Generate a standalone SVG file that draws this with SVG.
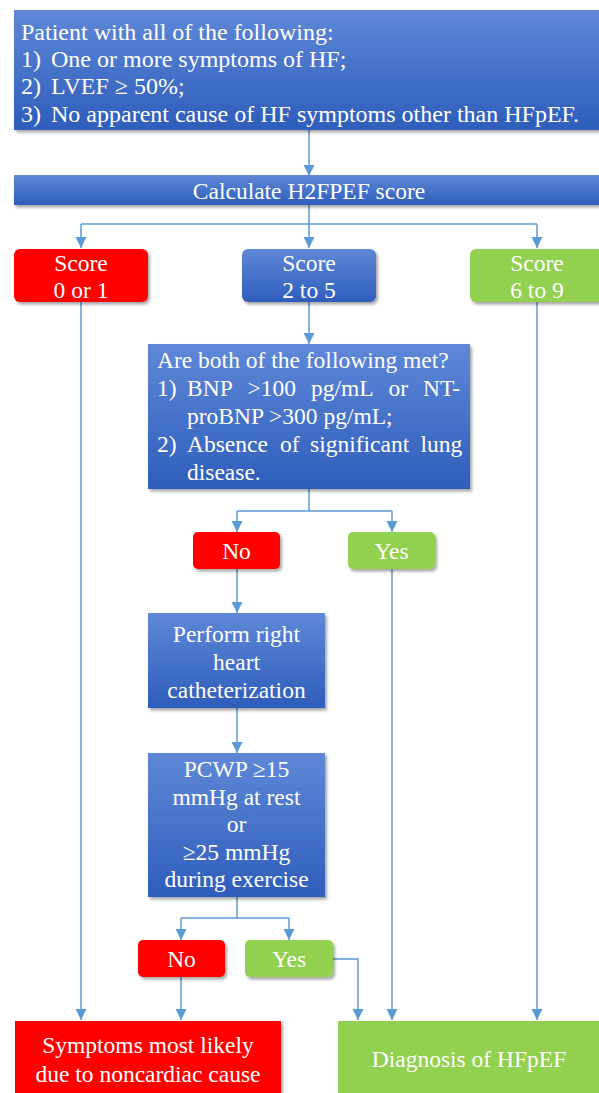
<svg xmlns="http://www.w3.org/2000/svg" width="599" height="1093" viewBox="0 0 599 1093" font-family="Liberation Serif, DejaVu Serif, serif">
<defs>
<linearGradient id="blueGrad" x1="0" y1="0" x2="0" y2="1">
<stop offset="0" stop-color="#5F88D7"/>
<stop offset="1" stop-color="#2E5DBB"/>
</linearGradient>
<filter id="shadow" x="-10%" y="-10%" width="120%" height="130%">
<feDropShadow dx="2" dy="2.5" stdDeviation="1.5" flood-color="#000" flood-opacity="0.35"/>
</filter>
<marker id="arrow" markerUnits="userSpaceOnUse" markerWidth="12" markerHeight="12" refX="11" refY="6" orient="auto">
<path d="M0,0.5 L11,6 L0,11.5 z" fill="#5B9BD5"/>
</marker>
</defs>
<style>
.blue{fill:url(#blueGrad);filter:url(#shadow);}
.red{fill:#FF0000;filter:url(#shadow);}
.green{fill:#92D050;filter:url(#shadow);}
text{font-family:'Liberation Serif',serif;font-size:23.5px;fill:#FFFFFF;}
.big{font-size:24px;}
.c{text-anchor:middle;}
.conn path{fill:none;stroke:#5B9BD5;stroke-width:1.5;}
</style>
<rect width="599" height="1093" fill="#FFFFFF"/>

<g class="conn" id="connectors">
<path d="M309,130 V176" marker-end="url(#arrow)"/>
<path d="M309,205 V224"/>
<path d="M81,224 H537"/>
<path d="M81,224 V248" marker-end="url(#arrow)"/>
<path d="M309,224 V248" marker-end="url(#arrow)"/>
<path d="M537,224 V248" marker-end="url(#arrow)"/>
<path d="M81,302 V1020" marker-end="url(#arrow)"/>
<path d="M537,302 V1020" marker-end="url(#arrow)"/>
<path d="M309,302 V344" marker-end="url(#arrow)"/>
<path d="M309,489 V511"/>
<path d="M237,511 H392"/>
<path d="M237,511 V532" marker-end="url(#arrow)"/>
<path d="M392,511 V532" marker-end="url(#arrow)"/>
<path d="M392,569 V1020" marker-end="url(#arrow)"/>
<path d="M237,569 V613" marker-end="url(#arrow)"/>
<path d="M237,708 V753" marker-end="url(#arrow)"/>
<path d="M237,897 V918"/>
<path d="M181,918 H289"/>
<path d="M181,918 V940" marker-end="url(#arrow)"/>
<path d="M289,918 V940" marker-end="url(#arrow)"/>
<path d="M181,977 V1020" marker-end="url(#arrow)"/>
<path d="M333,959 H358 V1020" marker-end="url(#arrow)"/>
</g>

<g id="patient">
<rect class="blue" x="14" y="10" width="600" height="120"/>
<text class="big" x="21" y="40">Patient with all of the following:</text>
<text class="big" x="21" y="67">1)</text><text class="big" x="51" y="67">One or more symptoms of HF;</text>
<text class="big" x="21" y="94">2)</text><text class="big" x="51" y="94">LVEF ≥ 50%;</text>
<text class="big" x="21" y="122">3)</text><text class="big" x="51" y="122">No apparent cause of HF symptoms other than HFpEF.</text>
</g>

<g id="calculate">
<rect class="blue" x="14" y="175" width="600" height="30"/>
<text class="c" x="309" y="199">Calculate H2FPEF score</text>
</g>

<g id="score01">
<rect class="red" x="14" y="249" width="134" height="53" rx="6"/>
<text class="c" x="81" y="271">Score</text>
<text class="c" x="81" y="298">0 or 1</text>
</g>

<g id="score25">
<rect class="blue" x="242" y="249" width="134" height="53" rx="6"/>
<text class="c" x="309" y="271">Score</text>
<text class="c" x="309" y="298">2 to 5</text>
</g>

<g id="score69">
<rect class="green" x="470" y="249" width="140" height="53" rx="6"/>
<text class="c" x="537" y="271">Score</text>
<text class="c" x="537" y="298">6 to 9</text>
</g>

<g id="question">
<rect class="blue" x="148" y="344" width="322" height="145"/>
<text x="157" y="368">Are both of the following met?</text>
<text x="157" y="396">1)</text>
<text y="396"><tspan x="187">BNP</tspan><tspan x="247.5">&gt;100</tspan><tspan x="311">pg/mL</tspan><tspan x="388.5">or</tspan><tspan x="423">NT-</tspan></text>
<text x="187" y="424">proBNP &gt;300 pg/mL;</text>
<text x="157" y="452">2)</text>
<text y="452"><tspan x="187">Absence</tspan><tspan x="280">of</tspan><tspan x="310">significant</tspan><tspan x="420.5">lung</tspan></text>
<text x="187" y="480">disease.</text>
</g>

<g id="no1">
<rect class="red" x="193" y="532" width="87" height="37" rx="5"/>
<text class="c" x="236.5" y="559">No</text>
</g>

<g id="yes1">
<rect class="green" x="348" y="532" width="87" height="37" rx="5"/>
<text class="c" x="391.5" y="559">Yes</text>
</g>

<g id="catheterization">
<rect class="blue" x="148" y="613" width="177" height="95"/>
<text class="c" x="236.5" y="642">Perform right</text>
<text class="c" x="236.5" y="670">heart</text>
<text class="c" x="236.5" y="698">catheterization</text>
</g>

<g id="pcwp">
<rect class="blue" x="148" y="753" width="177" height="144"/>
<text class="c" x="236.5" y="777">PCWP ≥15</text>
<text class="c" x="236.5" y="805">mmHg at rest</text>
<text class="c" x="236.5" y="832">or</text>
<text class="c" x="236.5" y="860">≥25 mmHg</text>
<text class="c" x="236.5" y="887">during exercise</text>
</g>

<g id="no2">
<rect class="red" x="138" y="940" width="87" height="37" rx="5"/>
<text class="c" x="181.5" y="967">No</text>
</g>

<g id="yes2">
<rect class="green" x="245" y="940" width="88" height="37" rx="5"/>
<text class="c" x="289" y="967">Yes</text>
</g>

<g id="noncardiac">
<rect class="red" x="15" y="1021" width="266" height="80"/>
<text class="c" x="148" y="1053">Symptoms most likely</text>
<text class="c" x="148" y="1082">due to noncardiac cause</text>
</g>

<g id="diagnosis">
<rect class="green" x="338" y="1021" width="270" height="80"/>
<text class="c" x="469" y="1067">Diagnosis of HFpEF</text>
</g>
</svg>
